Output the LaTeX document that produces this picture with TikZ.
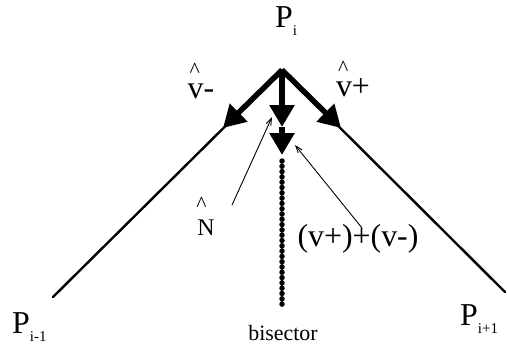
\documentclass[tikz,border=0pt]{standalone}
\usepackage{fontspec}
\setmainfont{Liberation Serif}
\usetikzlibrary{arrows.meta}
\newcommand{\subtxt}[1]{\raisebox{-8bp}{\fontsize{15}{16}\selectfont #1}}
\newcommand{\hatmark}[2]{\rlap{\hspace{#1}\raisebox{#2}{\fontsize{22}{22}\selectfont\textasciicircum}}}

\begin{document}
\begin{tikzpicture}[
  x=1bp, y=1bp,
  line cap=round,
  line join=round,
  every node/.style={font=\fontsize{32}{36}\selectfont, inner sep=0pt},
  edge/.style={line width=2.4bp},
  thickarrow/.style={line width=5.5bp, line cap=butt, -{Triangle[length=22bp,width=24bp]}},
  pointer/.style={line width=0.9bp, -{Straight Barb[length=7bp,width=5bp]}}
]
  \useasboundingbox (0,0) rectangle (507,349);

  % Corner and its two edges
  \coordinate (apex) at (282,279);
  \coordinate (lhead) at (223,221);
  \coordinate (rhead) at (341,221);
  \coordinate (lend) at (53,52);
  \coordinate (rend) at (505,57);
  \draw[edge] (apex) -- (lend);
  \draw[edge] (apex) -- (rend);
  \draw[thickarrow] (apex) -- (lhead);
  \draw[thickarrow] (apex) -- (rhead);

  % Normal, sum and bisector
  \coordinate (nhead) at (282,222);
  \coordinate (shead) at (282,194);
  \coordinate (dotstart) at (282,188);
  \coordinate (dotend) at (282,44);
  \draw[thickarrow] (apex) -- (nhead);
  \draw[thickarrow] (nhead) -- (shead);
  \draw[line width=5.5bp, dash pattern=on 0pt off 5.3bp] (dotstart) -- (dotend);

  % Labels
  \node[anchor=base west] (pi) at (275,322) {P\subtxt{i}};
  \node[anchor=base west] (pprev) at (12,16) {P\subtxt{i-1}};
  \node[anchor=base west] (pnext) at (460,24) {P\subtxt{i+1}};
  \node[anchor=base] (vminus) at (201,251) {\hatmark{2bp}{21bp}v-};
  \node[anchor=base] (vplus) at (353,253) {\hatmark{2bp}{21bp}v+};
  \node[anchor=base, font=\fontsize{24}{28}\selectfont] (nlabel) at (206,114) {\hatmark{-1bp}{24bp}N};
  \node[anchor=base] (sumlabel) at (358,103) {(v+)+(v-)};
  \node[anchor=base, font=\fontsize{22}{24}\selectfont] (bisect) at (283,9) {bisector};

  % Pointers to the arrows
  \coordinate (nfoot) at (232,144);
  \coordinate (ntip) at (272,232);
  \coordinate (sfoot) at (362,121);
  \coordinate (stip) at (295,204);
  \draw[pointer] (nfoot) -- (ntip);
  \draw[pointer] (sfoot) -- (stip);
\end{tikzpicture}
\end{document}
